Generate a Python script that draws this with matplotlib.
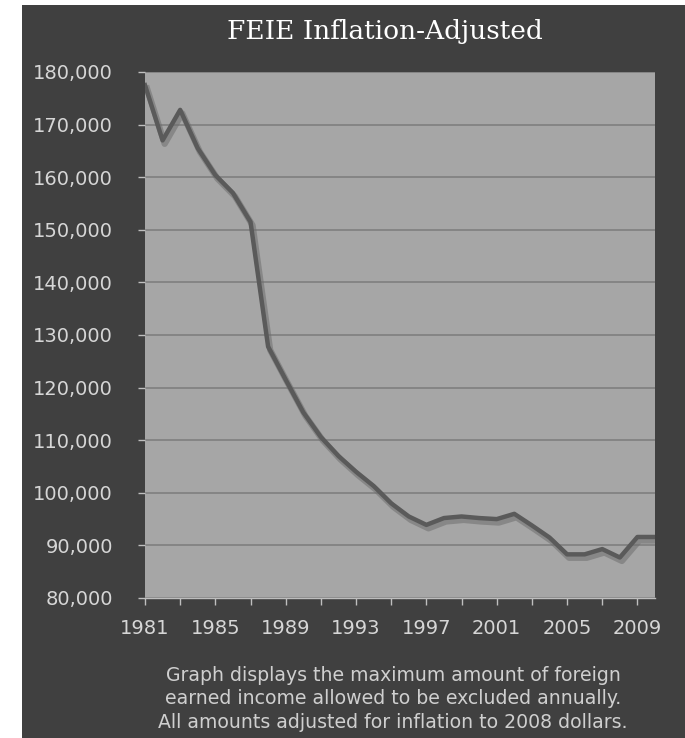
import matplotlib
matplotlib.use("Agg")
import matplotlib.pyplot as plt
import matplotlib.patheffects as pe

years = list(range(1981, 2011))
values = [177500, 167000, 172800, 165500, 160400, 157000, 151500, 127800, 121500, 115300,
          110600, 107000, 104000, 101300, 98000, 95500, 93900, 95200, 95500, 95200,
          95000, 96000, 93800, 91500, 88300, 88300, 89300, 87700, 91600, 91600]
ytick_vals = list(range(80000, 180001, 10000))
xtick_vals = list(range(1981, 2011, 4))
title = "FEIE Inflation-Adjusted"
caption = ("Graph displays the maximum amount of foreign\n"
           "earned income allowed to be excluded annually.\n"
           "All amounts adjusted for inflation to 2008 dollars.")

W, H = 685, 738
fig = plt.figure(figsize=(W/100, H/100), dpi=100)
fig.patch.set_facecolor("white")
# dark panel
bg = fig.add_axes([22/W, 0, 1 - 22/W, 1 - 5/H], zorder=-1)
bg.set_facecolor("#404040")
bg.set_xticks([]); bg.set_yticks([])
for s in bg.spines.values():
    s.set_visible(False)

l, r, t, b = 145, 655, 72, 598
ax = fig.add_axes([l/W, 1 - b/H, (r-l)/W, (b-t)/H], zorder=1)
ax.set_facecolor("#a6a6a6")
ax.plot(years, values, color="#5a5a5a", lw=3.2, solid_joinstyle="round",
        path_effects=[pe.SimpleLineShadow(offset=(1.5, -2.5), shadow_color="#6e6e6e", alpha=0.55, linewidth=4.5),
                      pe.Normal()], zorder=3)
ax.set_xlim(1981, 2010)
ax.set_ylim(80000, 180000)
ax.set_yticks(ytick_vals)
ax.set_yticklabels([f"{v:,}" for v in ytick_vals])
ax.set_xticks(list(range(1981, 2011, 2)))
ax.set_xticklabels([str(y) if y in xtick_vals else "" for y in range(1981, 2011, 2)])
ax.grid(axis="y", color="#7c7c7c", lw=1.1)
ax.set_axisbelow(True)
for s in ax.spines.values():
    s.set_visible(False)
ax.spines["bottom"].set_visible(True)
ax.spines["bottom"].set_color("#bdbdbd")
ax.spines["bottom"].set_linewidth(1)
ax.tick_params(axis="both", colors="#bfbfbf", labelcolor="#d6d6d6", labelsize=14,
               length=5, width=1)
ax.tick_params(axis="x", pad=10)
ax.tick_params(axis="y", pad=18)

fig.text(385/W, 1 - 31/H, title, ha="center", va="center", color="white",
         fontsize=19, family="DejaVu Serif")
fig.text(393/W, 1 - 699/H, caption, ha="center", va="center", color="#cfcfcf",
         fontsize=13.6, linespacing=1.27, family="DejaVu Sans")

fig.savefig("out.png", dpi=100, facecolor=fig.get_facecolor())
